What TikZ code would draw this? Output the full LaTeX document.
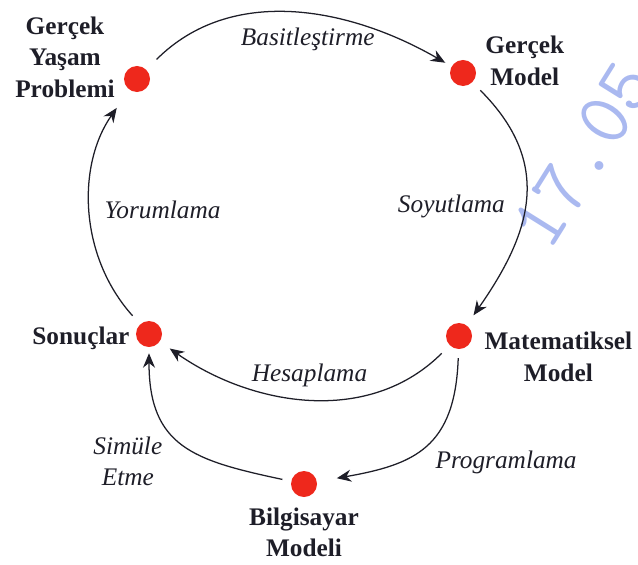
\documentclass[tikz,border=0pt]{standalone}
\usepackage{fontspec}
\setmainfont{Liberation Serif}
\usetikzlibrary{arrows.meta,positioning}
\definecolor{DotRed}{RGB}{238,40,28}
\definecolor{InkDark}{RGB}{30,30,40}
\definecolor{StampBlue}{RGB}{170,185,240}
\tikzset{
  dot/.style={
    circle,
    fill=DotRed,
    minimum size=6.5mm,
    inner sep=0pt
  },
  stage/.style={
    font=\fontsize{18}{22.5}\selectfont\bfseries,
    text=InkDark,
    align=center,
    inner sep=0pt
  },
  process/.style={
    font=\fontsize{18}{22}\selectfont\itshape,
    text=InkDark,
    align=center,
    inner sep=0pt
  },
  flowarrow/.style={
    -{Stealth[length=3.6mm,width=3mm]},
    line width=0.9pt,
    draw=InkDark,
    shorten <=2.8mm,
    shorten >=3mm
  },
  stamp/.style={
    font=\fontsize{56}{56}\selectfont\ttfamily,
    text=StampBlue
  }
}

\begin{document}
\begin{tikzpicture}[x=0.025cm, y=-0.025cm]
\useasboundingbox (0,0) rectangle (638,565);
\node[stamp, rotate=58] (mark) at (583,155) {17.05};

% stages
\node[dot] (real) at (137,79) {};
\node[dot] (realmodel) at (463,73) {};
\node[dot] (mathmodel) at (459,336) {};
\node[dot] (results) at (149,334) {};
\node[dot] (compmodel) at (304,484) {};

\node[stage, left=0.22cm of real, yshift=0.55cm] (realtxt) {Gerçek\\Yaşam\\Problemi};
\node[stage, right=0.22cm of realmodel, yshift=0.3cm] (realmodeltxt) {Gerçek\\Model};
\node[stage, right=0.3cm of mathmodel, yshift=-0.52cm] (mathmodeltxt) {Matematiksel\\Model};
\node[stage, left=0.15cm of results, yshift=-0.12cm] (resultstxt) {Sonuçlar};
\node[stage, below=0.25cm of compmodel] (compmodeltxt) {Bilgisayar\\Modeli};

% cycle
\draw[flowarrow, shorten <=3.6mm, shorten >=1.8mm] (real) to[out=45, in=150]
  node[process, pos=0.55, below=3mm] {Basitleştirme} (realmodel);
\draw[flowarrow] (realmodel) to[out=-45, in=55, looseness=1.2]
  node[process, pos=0.53, left=4.5mm] {Soyutlama} (mathmodel);
\draw[flowarrow] (mathmodel) to[out=-135, in=-35]
  node[process, pos=0.5, above=2.5mm] {Hesaplama} (results);
\draw[flowarrow, shorten >=5.5mm] (results) to[out=132, in=-125]
  node[process, pos=0.5, right=3mm] {Yorumlama} (real);

% computer branch
\draw[flowarrow, shorten <=2.2mm, shorten >=5mm] (mathmodel) to[out=-92, in=10, looseness=1.3]
  node[process, pos=0.5, right=3mm, yshift=-4mm] {Programlama} (compmodel);
\draw[flowarrow, shorten <=2.2mm, shorten >=1.5mm] (compmodel) to[out=168, in=-90, looseness=1.3]
  node[process, pos=0.45, left=7mm, yshift=-3mm] {Simüle\\Etme} (results);
\end{tikzpicture}
\end{document}
